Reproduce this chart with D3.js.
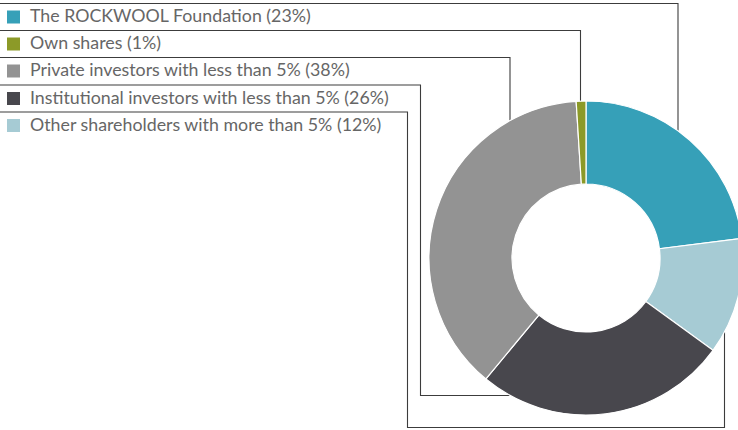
<!DOCTYPE html>
<html>
<head>
<meta charset="utf-8">
<script src="https://cdn.jsdelivr.net/npm/d3@7"></script>
<style>
  html, body { margin: 0; padding: 0; background: #fff; }
  svg { display: block; }
</style>
</head>
<body>
<svg id="chart" width="738" height="430"></svg>
<script>
// Shareholder structure
const labels = [
  "The ROCKWOOL Foundation",
  "Own shares",
  "Private investors with less than 5%",
  "Institutional investors with less than 5%",
  "Other shareholders with more than 5%"
];
const shares = [23, 1, 38, 26, 12];
const colors = ["#36a0b8", "#8c9a28", "#939393", "#48474d", "#a6cbd4"];
// order of slices clockwise from 12 o'clock (indices into the arrays above)
const sliceOrder = [0, 4, 3, 2, 1];

const W = 738, H = 430;
const cx = 586, cy = 258, R = 157, r = 74;

const svg = d3.select("#chart");

const pie = d3.pie()
  .sort(null)
  .value(i => shares[i]);
const arcs = pie(sliceOrder);
const arcGen = d3.arc().innerRadius(r).outerRadius(R);

// Leader routes: legend row line -> down the right side -> onto the ring
const rowY = [3.5, 30.5, 57.5, 85, 112];
const legendLineColor = "#3c3c3c";

function ringYTop(x) { return cy - Math.sqrt(R * R - (x - cx) * (x - cx)); }
function ringYBottom(x) { return cy + Math.sqrt(R * R - (x - cx) * (x - cx)); }
function ringXLeft(y) { return cx - Math.sqrt(R * R - (y - cy) * (y - cy)); }

const leaders = [
  // Foundation: across the top, down onto the teal slice
  [[0, rowY[0]], [678, rowY[0]], [678, ringYTop(678)]],
  // Own shares
  [[0, rowY[1]], [580.5, rowY[1]], [580.5, ringYTop(580.5)]],
  // Private investors
  [[0, rowY[2]], [510, rowY[2]], [510, ringYTop(510)]],
  // Institutional investors: around the left and in from below-left
  [[0, rowY[3]], [420.5, rowY[3]], [420.5, 395.5], [ringXLeft(395.5), 395.5]],
  // Other shareholders: down the left, along the bottom, up to the light slice
  [[0, rowY[4]], [407.5, rowY[4]], [407.5, 427.5], [724.5, 427.5], [724.5, ringYBottom(724.5)]]
];

const line = d3.line();
svg.append("g")
  .selectAll("path")
  .data(leaders)
  .join("path")
  .attr("d", d => line(d))
  .attr("fill", "none")
  .attr("stroke", legendLineColor)
  .attr("stroke-width", 1.1);

// Donut
svg.append("g")
  .attr("transform", `translate(${cx},${cy})`)
  .selectAll("path")
  .data(arcs)
  .join("path")
  .attr("d", arcGen)
  .attr("fill", d => colors[d.data])
  .attr("stroke", "#fff")
  .attr("stroke-width", 1.2);

// Legend
const legend = svg.append("g");
const rows = legend.selectAll("g")
  .data(labels.map((l, i) => i))
  .join("g")
  .attr("transform", i => `translate(0,${rowY[i]})`);

rows.append("rect")
  .attr("x", 7)
  .attr("y", 7)
  .attr("width", 13)
  .attr("height", 13)
  .attr("fill", i => colors[i]);

rows.append("text")
  .attr("x", 30)
  .attr("y", 18.5)
  .attr("font-family", "Lato, 'Open Sans', sans-serif")
  .attr("font-size", 17.8)
  .attr("fill", "#666666")
  .text(i => `${labels[i]} (${shares[i]}%)`);
</script>
</body>
</html>
